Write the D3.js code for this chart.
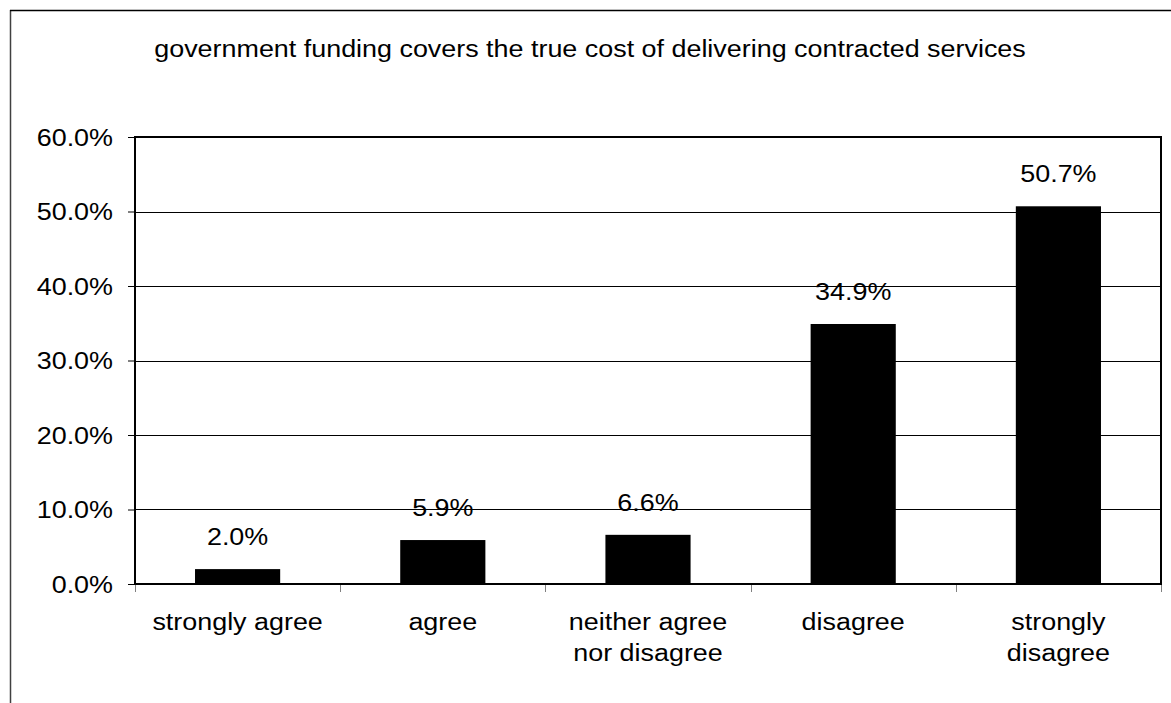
<!DOCTYPE html>
<html>
<head>
<meta charset="utf-8">
<script src="https://cdn.jsdelivr.net/npm/d3@7"></script>
<style>
  html, body { margin: 0; padding: 0; background: #fff; }
  svg { display: block; font-family: "Liberation Sans", Arial, sans-serif; }
</style>
</head>
<body>
<svg id="chart" width="1171" height="703"></svg>
<script>
const title = "government funding covers the true cost of delivering contracted services";
const categories = ["strongly agree", "agree", "neither agree nor disagree", "disagree", "strongly disagree"];
const categoryLines = [["strongly agree"], ["agree"], ["neither agree", "nor disagree"], ["disagree"], ["strongly", "disagree"]];
const values = [0.020, 0.059, 0.066, 0.349, 0.507];
const yTicks = [0, 0.1, 0.2, 0.3, 0.4, 0.5, 0.6];

const svg = d3.select("#chart");
const W = 1171, H = 703;
const plot = { left: 135, top: 137, right: 1161, bottom: 584 };
const FS = 23;
const SX = 1.17;
const fmt = d3.format(".1%");

// helper: stretched text at (x,y) with anchor
function stext(parent, xx, yy, txt, anchor) {
  return parent.append("text")
    .attr("transform", `translate(${xx},${yy}) scale(${SX},1)`)
    .attr("text-anchor", anchor).attr("font-size", FS).attr("fill", "#000")
    .text(txt);
}

// outer frame
svg.append("line").attr("x1", 10.5).attr("x2", 10.5).attr("y1", 10).attr("y2", H)
  .attr("stroke", "#404040").attr("stroke-width", 1.5);
svg.append("line").attr("x1", 10).attr("x2", W).attr("y1", 10.5).attr("y2", 10.5)
  .attr("stroke", "#000").attr("stroke-width", 1.5);

const x = d3.scaleBand().domain(categories).range([plot.left, plot.right]).paddingInner(0.585).paddingOuter(0.2925);
const xb = d3.scaleBand().domain(categories).range([plot.left, plot.right]);
const y = d3.scaleLinear().domain([0, 0.6]).range([plot.bottom, plot.top]);

// gridlines
svg.append("g").selectAll("line").data(yTicks.slice(1, -1)).join("line")
  .attr("x1", plot.left).attr("x2", plot.right)
  .attr("y1", d => Math.round(y(d)) + 0.5).attr("y2", d => Math.round(y(d)) + 0.5)
  .attr("stroke", "#000").attr("stroke-width", 1);

// y axis ticks (D3 axis) with stretched labels
const yAxis = d3.axisLeft(y).tickValues(yTicks).tickFormat(fmt).tickSize(7).tickPadding(14);
const gy = svg.append("g").attr("transform", `translate(${plot.left},0)`).call(yAxis);
gy.select(".domain").remove();
gy.selectAll(".tick line").attr("stroke", "#000");
gy.selectAll(".tick text").remove();
gy.selectAll(".tick").each(function(d) {
  stext(d3.select(this), -22, 0, fmt(d), "end").attr("dy", "0.36em");
});

// x axis ticks at category boundaries
const boundaries = categories.map(c => xb(c)).concat([plot.right]);
svg.append("g").selectAll("line").data(boundaries).join("line")
  .attr("x1", d => Math.round(d) + 0.5).attr("x2", d => Math.round(d) + 0.5)
  .attr("y1", plot.bottom).attr("y2", plot.bottom + 8)
  .attr("stroke", "#808080").attr("stroke-width", 1);

// bars
svg.append("g").selectAll("rect").data(values).join("rect")
  .attr("x", (d, i) => x(categories[i]))
  .attr("width", x.bandwidth())
  .attr("y", d => y(d))
  .attr("height", d => plot.bottom - y(d))
  .attr("fill", "#000");

// plot border
svg.append("rect").attr("x", plot.left).attr("y", plot.top)
  .attr("width", plot.right - plot.left).attr("height", plot.bottom - plot.top)
  .attr("fill", "none").attr("stroke", "#000").attr("stroke-width", 2);

// value labels
const vg = svg.append("g");
values.forEach((v, i) => {
  stext(vg, xb(categories[i]) + xb.bandwidth() / 2, y(v) - 24, fmt(v), "middle");
});

// category labels
const cg = svg.append("g");
categoryLines.forEach((lines, i) => {
  lines.forEach((ln, j) => {
    stext(cg, xb(categories[i]) + xb.bandwidth() / 2, 630 + j * 31, ln, "middle");
  });
});

// title
stext(svg, 590, 57, title, "middle");
</script>
</body>
</html>
